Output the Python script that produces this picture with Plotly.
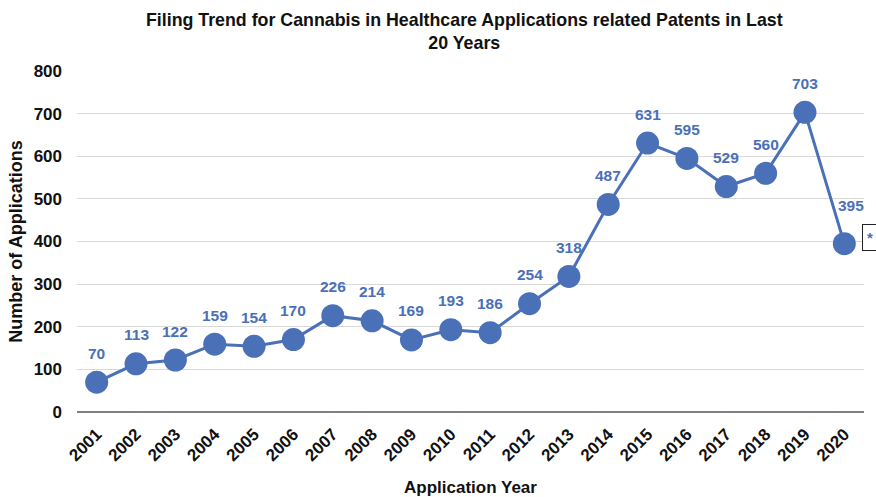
import plotly.graph_objects as go

years = [str(y) for y in range(2001, 2021)]
applications = [70, 113, 122, 159, 154, 170, 226, 214, 169, 193, 186, 254, 318,
                487, 631, 595, 529, 560, 703, 395]

BLUE = "#4a70b8"
FONT = "Liberation Sans, Arial, sans-serif"

fig = go.Figure()
fig.add_trace(go.Scatter(
    x=years, y=applications, mode="lines+markers",
    line=dict(color=BLUE, width=3),
    marker=dict(color=BLUE, size=23),
    hoverinfo="x+y", showlegend=False,
))

# value labels above each point (x given as category index)
for i, v in enumerate(applications):
    last = i == len(applications) - 1
    fig.add_annotation(
        x=i, y=v, text=f"<b>{v}</b>", showarrow=False,
        yshift=38 if last else 29, xshift=7 if last else 0,
        font=dict(family=FONT, size=15.5, color=BLUE),
    )

# asterisk note next to the last point
fig.add_annotation(
    x=1.0, xref="paper", y=applications[-1], yref="y",
    xanchor="left", xshift=-2, yshift=6,
    text="<b>*</b>", showarrow=False,
    font=dict(family=FONT, size=15, color=BLUE),
    bordercolor="#222222", borderwidth=1, borderpad=4, bgcolor="white",
)

fig.update_layout(
    width=876, height=497,
    margin=dict(l=77, r=12, t=71, b=85),
    paper_bgcolor="white", plot_bgcolor="white",
    font=dict(family=FONT, color="#111111"),
    title=dict(
        text="<b>Filing Trend for Cannabis in Healthcare Applications related Patents in Last<br>20 Years</b>",
        x=0.53, xanchor="center", y=0.948, yanchor="middle",
        font=dict(family=FONT, size=17.8, color="#111111"),
    ),
    xaxis=dict(
        type="category", range=[-0.5, len(years) - 0.5], automargin=False,
        showgrid=False, showline=False, ticks="",
        tickangle=-45, ticklabelstandoff=8,
        tickfont=dict(family=FONT, size=17, color="#111111", weight="bold"),
        title=dict(text="<b>Application Year</b>", font=dict(family=FONT, size=17), standoff=17),
    ),
    yaxis=dict(
        range=[0, 800], dtick=100, automargin=False,
        showgrid=True, gridcolor="#d9d9d9", gridwidth=1,
        zeroline=True, zerolinecolor="#7f7f7f", zerolinewidth=2,
        ticklabelstandoff=14,
        tickfont=dict(family=FONT, size=17, color="#111111", weight="bold"),
        title=dict(text="<b>Number of Applications</b>", font=dict(family=FONT, size=18), standoff=6),
    ),
)

fig.write_html("out.html")
